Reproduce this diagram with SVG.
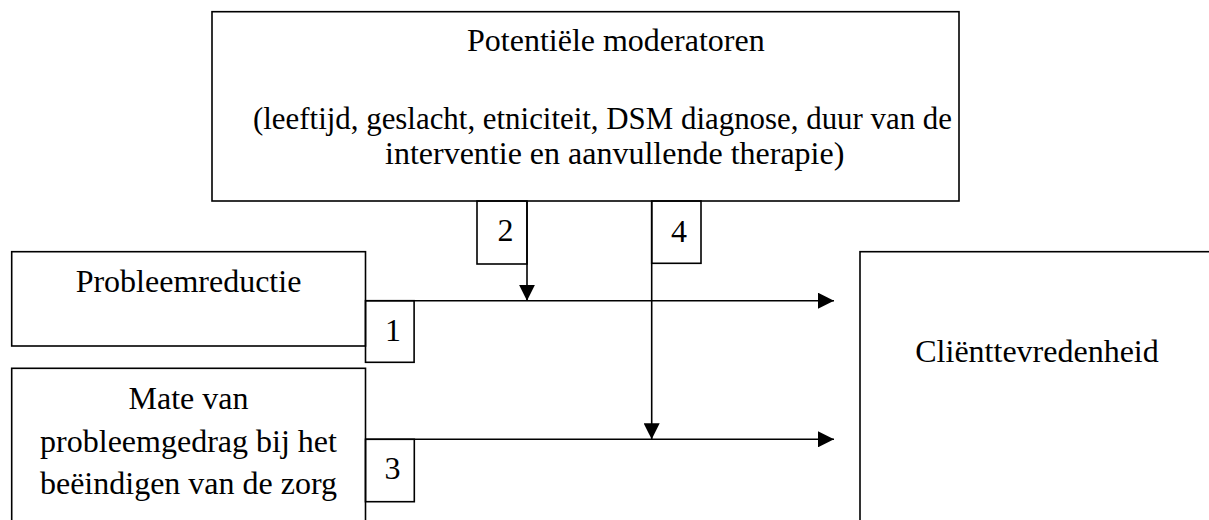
<svg xmlns="http://www.w3.org/2000/svg" width="1209" height="520" viewBox="0 0 1209 520">
<style>
  .box { fill: #fff; stroke: #000; stroke-width: 1.6; }
  .lbl { fill: none; stroke: #000; stroke-width: 1.6; }
  .t { font-family: "Liberation Serif", "Times New Roman", serif; font-size: 32px; fill: #000; }
  .m { text-anchor: middle; }
  .conn { stroke: #000; stroke-width: 1.6; fill: none; }
</style>
<defs>
  <marker id="ah" markerUnits="userSpaceOnUse" markerWidth="16" markerHeight="16" viewBox="0 0 15 15" refX="15" refY="7.5" orient="auto">
    <path d="M0,0 L15,7.5 L0,15 Z" fill="#000"/>
  </marker>
</defs>
<rect width="1209" height="520" fill="#fff"/>

<g id="moderatoren">
  <rect class="box" x="212" y="11.7" width="747" height="189.3"/>
  <text class="t" x="467" y="51">Potentiële moderatoren</text>
  <text class="t" x="253" y="129" textLength="699" lengthAdjust="spacingAndGlyphs">(leeftijd, geslacht, etniciteit, DSM diagnose, duur van de</text>
  <text class="t" x="385" y="164">interventie en aanvullende therapie)</text>
</g>

<g id="probleemreductie">
  <rect class="box" x="11.7" y="251.7" width="353.8" height="94.3"/>
  <text class="t m" x="188.5" y="292">Probleemreductie</text>
</g>

<g id="mate">
  <rect class="box" x="11.7" y="368.3" width="353.8" height="170"/>
  <text class="t m" x="188.5" y="409">Mate van</text>
  <text class="t m" x="188.5" y="451.5">probleemgedrag bij het</text>
  <text class="t m" x="188.5" y="493.5">beëindigen van de zorg</text>
</g>

<g id="clienttevredenheid">
  <rect class="box" x="860" y="251.7" width="370" height="290"/>
  <text class="t m" x="1037" y="362">Cliënttevredenheid</text>
</g>

<g id="connectors">
  <line class="conn" x1="365.5" y1="300.7" x2="834" y2="300.7" marker-end="url(#ah)"/>
  <line class="conn" x1="365.5" y1="439.3" x2="834" y2="439.3" marker-end="url(#ah)"/>
  <line class="conn" x1="527" y1="201" x2="527" y2="300.7" marker-end="url(#ah)"/>
  <line class="conn" x1="651.7" y1="201" x2="651.7" y2="439.3" marker-end="url(#ah)"/>
</g>

<g id="label1">
  <rect class="lbl" x="365.5" y="300.7" width="48.6" height="61.6"/>
  <text class="t m" x="393" y="341">1</text>
</g>
<g id="label2">
  <rect class="lbl" x="477" y="201" width="50" height="63"/>
  <text class="t m" x="505.5" y="241">2</text>
</g>
<g id="label3">
  <rect class="lbl" x="365.5" y="439.3" width="48.8" height="62.4"/>
  <text class="t m" x="392.5" y="478.5">3</text>
</g>
<g id="label4">
  <rect class="lbl" x="651.7" y="201" width="49.3" height="62.3"/>
  <text class="t m" x="679" y="242">4</text>
</g>
</svg>
